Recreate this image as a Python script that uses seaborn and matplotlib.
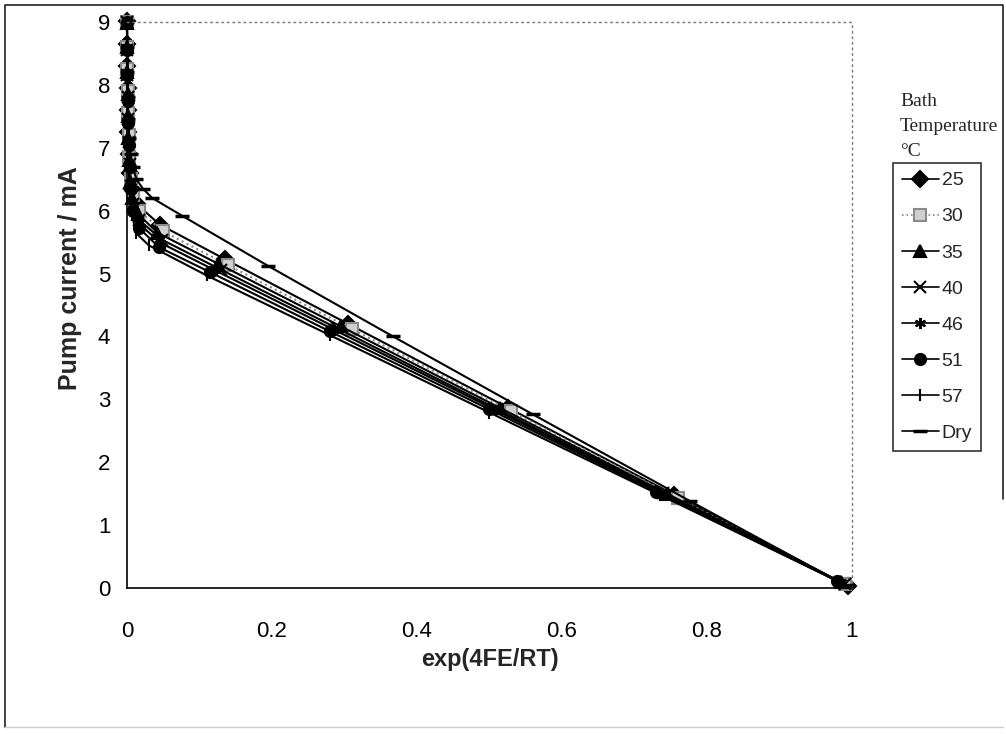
import pandas as pd
import seaborn as sns
import matplotlib.pyplot as plt
from matplotlib.lines import Line2D

# bath temperatures (legend order)
series = ['25', '30', '35', '40', '46', '51', '57', 'Dry']

x_25 = [0, 0.0002, 0.0005, 0.0009, 0.0014, 0.002, 0.003, 0.0045, 0.007, 0.014, 0.045, 0.135, 0.305, 0.525, 0.755, 0.995]
y_25 = [9.02, 8.65, 8.3, 7.95, 7.6, 7.25, 6.9, 6.6, 6.35, 6.1, 5.78, 5.23, 4.2, 2.87, 1.48, 0.03]

x_30 = [0, 0.0003, 0.0006, 0.001, 0.0016, 0.0024, 0.0035, 0.005, 0.008, 0.016, 0.05, 0.14, 0.31, 0.53, 0.76, 0.99]
y_30 = [9.0, 8.6, 8.25, 7.9, 7.55, 7.2, 6.85, 6.5, 6.25, 6.0, 5.67, 5.13, 4.12, 2.81, 1.43, 0.06]

x_35 = [0, 0.0002, 0.0004, 0.0008, 0.0013, 0.002, 0.003, 0.0045, 0.007, 0.015, 0.042, 0.125, 0.295, 0.515, 0.745, 0.985]
y_35 = [8.98, 8.6, 8.2, 7.85, 7.5, 7.15, 6.8, 6.45, 6.2, 5.95, 5.65, 5.16, 4.16, 2.86, 1.5, 0.09]

x_40 = [0, 0.0003, 0.0007, 0.0011, 0.0017, 0.0025, 0.0037, 0.0055, 0.009, 0.017, 0.048, 0.13, 0.29, 0.51, 0.74, 0.99]
y_40 = [9.0, 8.55, 8.15, 7.8, 7.45, 7.1, 6.75, 6.4, 6.1, 5.85, 5.54, 5.06, 4.13, 2.85, 1.51, 0.06]

x_46 = [0, 0.0002, 0.0005, 0.0009, 0.0015, 0.0022, 0.0033, 0.005, 0.008, 0.016, 0.046, 0.12, 0.285, 0.505, 0.735, 0.985]
y_46 = [9.02, 8.6, 8.2, 7.8, 7.45, 7.1, 6.75, 6.4, 6.05, 5.8, 5.49, 5.06, 4.11, 2.85, 1.52, 0.09]

x_51 = [0, 0.0003, 0.0006, 0.001, 0.0016, 0.0024, 0.0036, 0.0055, 0.009, 0.017, 0.044, 0.115, 0.28, 0.5, 0.73, 0.98]
y_51 = [9.0, 8.55, 8.15, 7.75, 7.4, 7.05, 6.7, 6.35, 6.0, 5.72, 5.42, 5.02, 4.08, 2.84, 1.53, 0.11]

x_57 = [0, 0.0002, 0.0005, 0.0009, 0.0014, 0.0021, 0.0032, 0.0048, 0.007, 0.012, 0.03, 0.11, 0.28, 0.5, 0.735, 0.98]
y_57 = [8.98, 8.55, 8.15, 7.75, 7.35, 6.95, 6.6, 6.25, 5.95, 5.65, 5.45, 4.97, 4.02, 2.79, 1.48, 0.11]

x_dry = [0, 0.0003, 0.0007, 0.0012, 0.002, 0.003, 0.005, 0.008, 0.013, 0.022, 0.035, 0.076, 0.195, 0.367, 0.56, 0.777, 0.99]
y_dry = [9.0, 8.6, 8.2, 7.8, 7.45, 7.15, 6.9, 6.7, 6.5, 6.35, 6.2, 5.92, 5.12, 4.0, 2.76, 1.38, 0.05]

x_ticks = [0, 0.2, 0.4, 0.6, 0.8, 1]
x_ticklabels = ['0', '0.2', '0.4', '0.6', '0.8', '1']
y_ticks = [0, 1, 2, 3, 4, 5, 6, 7, 8, 9]

xs_all = [x_25, x_30, x_35, x_40, x_46, x_51, x_57, x_dry]
ys_all = [y_25, y_30, y_35, y_40, y_46, y_51, y_57, y_dry]

frames = []
for name, xs, ys in zip(series, xs_all, ys_all):
    frames.append(pd.DataFrame({'exp': xs, 'current': ys, 'temp': name}))
df = pd.concat(frames, ignore_index=True)

sns.set_theme(style='white')
plt.rcParams['font.family'] = ['Liberation Sans', 'DejaVu Sans']

markers = {'25': 'D', '30': 's', '35': '^', '40': 'x', '46': (6, 2, 0),
           '51': 'o', '57': '|', 'Dry': '_'}
palette = {s: 'black' for s in series}
palette['30'] = '#8a8a8a'

fig = plt.figure(figsize=(10.06, 7.34), dpi=100)
ax = fig.add_axes([0.1262, 0.1989, 0.7207, 0.7711])

for s in series:
    sub = df[df['temp'] == s]
    sns.lineplot(data=sub, x='exp', y='current', sort=False, estimator=None,
                 color=palette[s], marker=markers[s], markersize=8, lw=1.5,
                 ls=':' if s == '30' else '-', ax=ax, legend=False)

for ln, s in zip(ax.lines, series):
    ln.set_clip_on(False)
    ln.set_markeredgecolor(palette[s])
    ln.set_markeredgewidth(1.5)
    if s == '30':
        ln.set_markerfacecolor('#d0d0d0')
    if s == 'Dry':
        ln.set_markersize(10)
        ln.set_markeredgewidth(2.5)

ax.set_xlim(0, 1)
ax.set_ylim(0, 9)
ax.set_xticks(x_ticks)
ax.set_xticklabels(x_ticklabels)
ax.set_yticks(y_ticks)
ax.tick_params(direction='inout', length=8, width=1, colors='black', labelsize=16)
ax.tick_params(axis='x', pad=20)
ax.tick_params(axis='y', pad=8)

for side in ['left', 'bottom']:
    ax.spines[side].set_color('black')
    ax.spines[side].set_linewidth(1.2)
for side in ['top', 'right']:
    ax.spines[side].set_color('#777777')
    ax.spines[side].set_linestyle((0, (1, 3)))
    ax.spines[side].set_linewidth(1)

ax.set_xlabel('exp(4FE/RT)', fontsize=17, fontweight='bold', labelpad=4)
ax.set_ylabel('Pump current / mA', fontsize=18, fontweight='bold')
ax.yaxis.set_label_coords(-0.062, 0.548)

# legend built from the same style maps
handles = []
for s in series:
    mfc = '#d0d0d0' if s == '30' else palette[s]
    handles.append(Line2D([], [], color=palette[s], marker=markers[s],
                          markersize=10 if s == 'Dry' else 8,
                          markerfacecolor=mfc, markeredgecolor=palette[s],
                          markeredgewidth=2.5 if s == 'Dry' else 1.5, lw=1.2,
                          ls=':' if s == '30' else '-'))
leg = fig.legend(handles, series, loc='upper left',
                 bbox_to_anchor=(893 / 1006, 1 - 163 / 734), frameon=True,
                 fancybox=False, edgecolor='black', fontsize=14,
                 handlelength=1.9, handletextpad=0.15, borderpad=0.45,
                 labelspacing=0.95, borderaxespad=0)
leg.get_frame().set_linewidth(1.2)

fig.text(900 / 1006, 1 - 93 / 734, 'Bath\nTemperature\n°C', fontsize=14,
         family='Liberation Serif', va='top', ha='left', linespacing=1.6)

# outer chart border
fig.add_artist(Line2D([0.005, 0.005, 0.997, 0.997], [0.01, 0.993, 0.993, 0.32],
                      transform=fig.transFigure, color='#222222', lw=1.2))
fig.add_artist(Line2D([0.005, 0.997], [0.01, 0.01], transform=fig.transFigure,
                      color='#cccccc', lw=1))

fig.savefig('out.png', dpi=100)
